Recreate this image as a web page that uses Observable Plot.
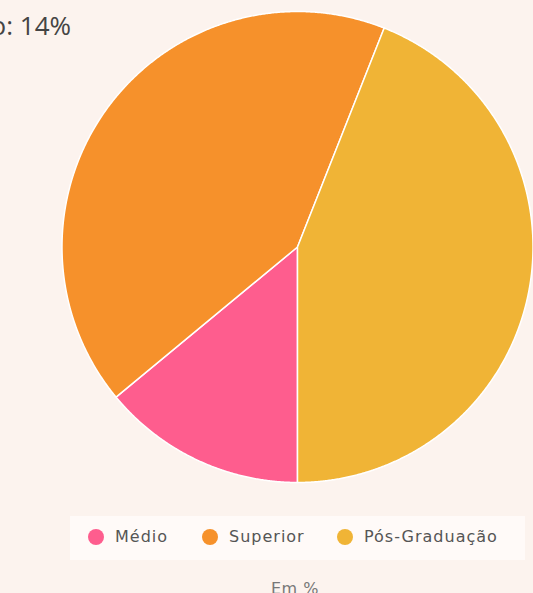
<!DOCTYPE html>
<html>
<head>
<meta charset="utf-8">
<script src="https://cdn.jsdelivr.net/npm/d3@7"></script>
<script src="https://cdn.jsdelivr.net/npm/@observablehq/plot@0.6"></script>
<style>
  html, body { margin: 0; padding: 0; background: #fcf3ee; width: 533px; height: 593px; overflow: hidden; position: relative; font-family: "DejaVu Sans", sans-serif; }
  #chart { position: absolute; left: 0; top: 0; }
  #tip { position: absolute; right: 462px; top: 7px; font-family: "Open Sans", sans-serif; font-weight: 400; font-size: 26px; color: #444; white-space: nowrap; }
  #legend { position: absolute; left: 70px; top: 516px; width: 455px; height: 44px; background: #fffaf8; font-size: 16px; color: #555; }
  .item { position: absolute; display: flex; align-items: center; top: 11px; letter-spacing: 1px; }
  .dot { width: 16px; height: 16px; border-radius: 50%; margin-right: 11px; }
  #caption { position: absolute; left: 0; width: 590px; text-align: center; top: 579px; font-size: 16px; color: #777; letter-spacing: 0.5px; }
</style>
</head>
<body>
<div id="chart"></div>
<div id="tip"></div>
<div id="legend"></div>
<div id="caption"></div>
<script>
const categories = ["Médio", "Superior", "Pós-Graduação"];
const values = [14, 42, 44];
const colors = ["#fe5d8e", "#f6912b", "#f0b436"];
const tooltipLabel = "Médio: 14%";
const captionText = "Em %";

const pie = d3.pie().sort(null).startAngle(Math.PI).endAngle(3 * Math.PI);
const arcs = pie(values);
const pts = [];
arcs.forEach((a, i) => {
  const cat = categories[i];
  pts.push({cat, x: 0, y: 0});
  const n = Math.max(2, Math.ceil((a.endAngle - a.startAngle) / 0.005));
  for (let k = 0; k <= n; k++) {
    const t = a.startAngle + (a.endAngle - a.startAngle) * k / n;
    pts.push({cat, x: Math.sin(t), y: Math.cos(t)});
  }
  pts.push({cat, x: 0, y: 0});
});

const cx = 297, cy = 246.5, r = 235.5;
const chart = Plot.plot({
  width: 533,
  height: 505,
  margin: 0,
  style: {background: "transparent"},
  x: {domain: [-1, 1], range: [cx - r, cx + r], axis: null},
  y: {domain: [-1, 1], range: [cy + r, cy - r], axis: null},
  color: {domain: categories, range: colors},
  marks: [
    Plot.line(pts, {x: "x", y: "y", z: "cat", fill: "cat", stroke: "#fff", strokeWidth: 1.5, strokeLinejoin: "round"})
  ]
});
document.getElementById("chart").appendChild(chart);

document.getElementById("tip").textContent = tooltipLabel;
document.getElementById("caption").textContent = captionText;

const legend = document.getElementById("legend");
const lefts = [18, 132, 267];
categories.forEach((c, i) => {
  const it = document.createElement("div");
  it.className = "item";
  it.style.left = lefts[i] + "px";
  const d = document.createElement("span");
  d.className = "dot";
  d.style.background = colors[i];
  const s = document.createElement("span");
  s.textContent = c;
  it.appendChild(d); it.appendChild(s);
  legend.appendChild(it);
});
</script>
</body>
</html>
